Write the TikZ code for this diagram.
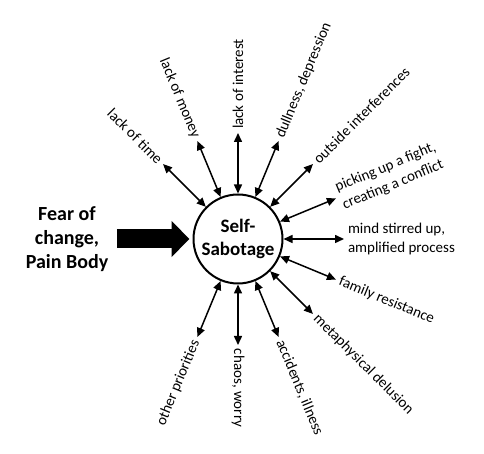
\documentclass[tikz,border=0pt]{standalone}
\usepackage{fontspec}
\setmainfont{Carlito}
\usetikzlibrary{arrows.meta}

\tikzset{
  spoke/.style={line width=1.5pt,{Triangle[length=9pt,width=8pt]}-{Triangle[length=9pt,width=8pt]}},
  lbl/.style={font=\fontsize{15}{19}\selectfont,inner sep=2pt,outer sep=2pt,align=left},
  core/.style={circle,draw,line width=2pt,minimum size=89pt,inner sep=0pt,
    font=\fontsize{19}{23}\selectfont\bfseries,align=center},
  push/.style={line width=19pt,-{Triangle[length=18pt,width=35pt]}}
}

\begin{document}
\begin{tikzpicture}[x=1pt,y=1pt]
  \useasboundingbox (0,0) rectangle (484,454);
  \node[core] (sab) at (238,215) {Self-\\Sabotage};
  \node[font=\fontsize{20}{24}\selectfont\bfseries,align=center] (fear) at (67,215)
    {Fear of\\change,\\Pain Body};
  \draw[push,shorten <=5pt,shorten >=3pt] (fear) -- (sab);
  % spokes, counter-clockwise from upper left
  \foreach \i/\a/\r/\an/\txt in {
      1/135/-45/east/lack of time,
      2/112.5/-67.5/east/lack of money,
      3/90/90/west/lack of interest,
      4/67.5/67.5/west/{dullness, depression},
      5/45/45/west/outside interferences,
      6/22.5/22.5/west/{picking up a fight,\\creating a conflict},
      7/0/0/west/{mind stirred up,\\amplified process},
      8/-22.5/-22.5/west/family resistance,
      9/-45/-45/west/metaphysical delusion,
      10/-67.5/-67.5/west/{accidents, illness},
      11/-90/-90/west/{chaos, worry},
      12/-112.5/67.5/east/other priorities}{
    \node[lbl,rotate=\r,anchor=\an] (l\i) at ([shift={(\a:106)}]sab.center) {\txt};
    \draw[spoke] (sab) -- (l\i);
  }
\end{tikzpicture}
\end{document}
